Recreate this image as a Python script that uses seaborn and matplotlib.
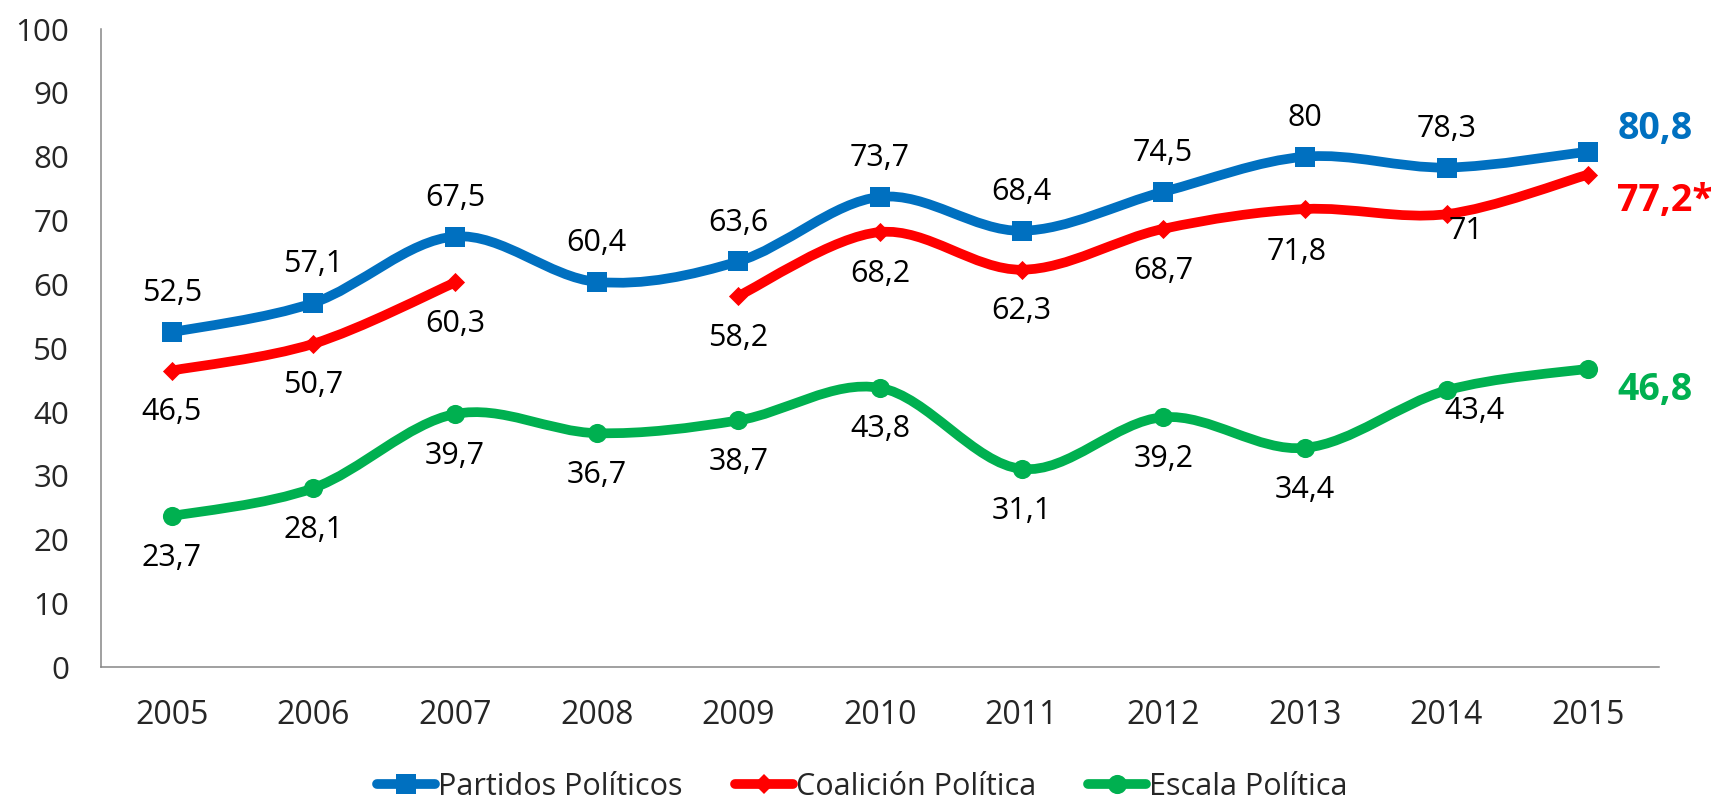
import numpy as np
import pandas as pd
import matplotlib
matplotlib.use("Agg")
import matplotlib.pyplot as plt
from matplotlib.path import Path
from matplotlib.patches import PathPatch
from matplotlib.lines import Line2D
import seaborn as sns

# --- Datos ---
anios = ["2005", "2006", "2007", "2008", "2009", "2010", "2011", "2012", "2013", "2014", "2015"]
partidos = [52.5, 57.1, 67.5, 60.4, 63.6, 73.7, 68.4, 74.5, 80.0, 78.3, 80.8]
coalicion = [46.5, 50.7, 60.3, np.nan, 58.2, 68.2, 62.3, 68.7, 71.8, 71.0, 77.2]
escala = [23.7, 28.1, 39.7, 36.7, 38.7, 43.8, 31.1, 39.2, 34.4, 43.4, 46.8]
series = ["Partidos Políticos", "Coalición Política", "Escala Política"]
etiquetas_finales = ["80,8", "77,2*", "46,8"]

colores = {"Partidos Políticos": "#0070C0",
           "Coalición Política": "#FF0000",
           "Escala Política": "#00B050"}
marcadores = {"Partidos Políticos": "s",
              "Coalición Política": "D",
              "Escala Política": "o"}
tamanos = {"Partidos Políticos": 200, "Coalición Política": 95, "Escala Política": 190}

pos = np.arange(len(anios))
df = pd.DataFrame({
    "pos": np.tile(pos, 3),
    "valor": partidos + coalicion + escala,
    "serie": np.repeat(series, len(anios)),
})

sns.set_style("white")
plt.rcParams["font.family"] = ["Open Sans", "DejaVu Sans"]

fig = plt.figure(figsize=(17.11, 7.99), dpi=100)
ax = fig.add_axes([0.059, 0.1646, 0.9106, 0.7991])

LW = 7


def curva_suave(xs, ys):
    # curva tipo Excel: bezier cubica con tangentes (P[i+1]-P[i-1])/6
    pts = np.column_stack([xs, ys])
    n = len(pts)
    verts = [pts[0]]
    codes = [Path.MOVETO]
    for i in range(n - 1):
        p0 = pts[i - 1] if i > 0 else pts[i]
        p1 = pts[i]
        p2 = pts[i + 1]
        p3 = pts[i + 2] if i + 2 < n else pts[i + 1]
        c1 = p1 + (p2 - p0) / 6
        c2 = p2 - (p3 - p1) / 6
        verts += [c1, c2, p2]
        codes += [Path.CURVE4] * 3
    return Path(verts, codes)


for s in series:
    d = df[df["serie"] == s].reset_index(drop=True)
    # separar en tramos sin datos faltantes
    ok = d["valor"].notna()
    tramo = (~ok).cumsum()
    for _, g in d[ok].groupby(tramo[ok]):
        if len(g) < 2:
            continue
        p = curva_suave(g["pos"].values.astype(float), g["valor"].values)
        ax.add_patch(PathPatch(p, facecolor="none", edgecolor=colores[s],
                               lw=LW, capstyle="round", joinstyle="round", zorder=2))
    sns.scatterplot(data=d.dropna(), x="pos", y="valor", color=colores[s],
                    marker=marcadores[s], s=tamanos[s], linewidth=0,
                    ax=ax, legend=False, zorder=3)

# --- Etiquetas de datos ---
def fmt(v):
    return f"{v:g}".replace(".", ",")

desplaz = {"Partidos Políticos": (0, 28), "Coalición Política": (0, -30), "Escala Política": (0, -30)}
especiales = {("Coalición Política", 9): (14, -12),
              ("Escala Política", 9): (20, -15),
              ("Coalición Política", 8): (-6, -31)}

for s, vals in zip(series, [partidos, coalicion, escala]):
    for i, v in enumerate(vals[:-1]):
        if np.isnan(v):
            continue
        off = especiales.get((s, i), desplaz[s])
        ax.annotate(fmt(v), (pos[i], v), xytext=off, textcoords="offset points",
                    ha="center", va="center", fontsize=22, color="black")

fin_off = [16, -19, -15]
for s, vals, txt, dy in zip(series, [partidos, coalicion, escala], etiquetas_finales, fin_off):
    ax.annotate(txt, (pos[-1], vals[-1]), xytext=(21, dy), textcoords="offset points",
                ha="left", va="center", fontsize=27, fontweight="bold",
                color=colores[s], annotation_clip=False)

# --- Ejes ---
ax.set_xlim(-0.5, len(anios) - 0.5)
ax.set_ylim(0, 100)
ax.set_yticks(np.arange(0, 101, 10))
ax.set_xticks(pos)
ax.set_xticklabels(anios)
ax.set_xticks(np.arange(-0.5, len(anios), 1), minor=True)
ax.tick_params(axis="x", which="major", length=0, pad=23, labelsize=23)
ax.tick_params(axis="x", which="minor", length=8, width=1.1, color="#868686", direction="out")
ax.tick_params(axis="y", length=8, width=1.1, color="#868686", direction="out", pad=15, labelsize=22.5)
ax.set_xlabel("")
ax.set_ylabel("")
for lado in ["top", "right"]:
    ax.spines[lado].set_visible(False)
for lado in ["left", "bottom"]:
    ax.spines[lado].set_color("#868686")
    ax.spines[lado].set_linewidth(1.1)

handles = [Line2D([], [], color=colores[s], lw=LW, marker=marcadores[s],
                  markersize=np.sqrt(tamanos[s]), markeredgewidth=0) for s in series]
fig.legend(handles, series, loc="center", bbox_to_anchor=(0.504, 0.015), ncol=3,
           frameon=False, fontsize=22, handlelength=1.9, handletextpad=0.1,
           columnspacing=1.7)

plt.savefig("out.png", dpi=100)
